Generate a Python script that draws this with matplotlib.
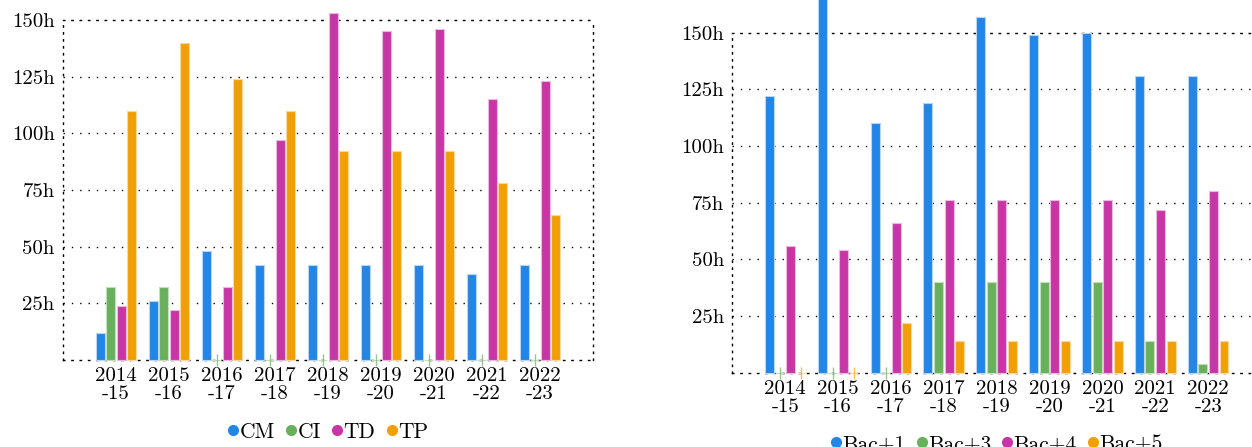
import matplotlib.pyplot as plt
from matplotlib.lines import Line2D
import numpy as np

plt.rcParams['font.family'] = 'cmr10'
plt.rcParams['axes.unicode_minus'] = False
plt.rcParams['axes.formatter.use_mathtext'] = True

years = ['2014\n-15', '2015\n-16', '2016\n-17', '2017\n-18', '2018\n-19',
         '2019\n-20', '2020\n-21', '2021\n-22', '2022\n-23']
yticks = [25, 50, 75, 100, 125, 150]

# hours by type of course
cm = [12, 26, 48, 42, 42, 42, 42, 38, 42]
ci = [32, 32, 0, 0, 0, 0, 0, 0, 0]
td = [24, 22, 32, 97, 153, 145, 146, 115, 123]
tp = [110, 140, 124, 110, 92, 92, 92, 78, 64]

# hours by level
bac1 = [122, 168, 110, 119, 157, 149, 150, 131, 131]
bac3 = [0, 0, 0, 40, 40, 40, 40, 14, 4]
bac4 = [56, 54, 66, 76, 76, 76, 76, 72, 80]
bac5 = [0, 0, 22, 14, 14, 14, 14, 14, 14]

colors = ['#2385e6', '#68b05c', '#c836a6', '#f0a006']
edges = ['#b7d6f6', '#c2dfbd', '#eab9de', '#f9d99b']


def bar_panel(ax, series, labels, leg_y):
    x = np.arange(len(years))
    for i, vals in enumerate(series):
        vals = np.asarray(vals)
        xs = x + (i - 1.5) * 0.2
        ax.bar(xs, vals, width=0.17, color=colors[i], edgecolor=edges[i],
               linewidth=0.8, clip_on=False, zorder=3)
        zero = vals == 0
        if zero.any():
            ax.plot(xs[zero], vals[zero], linestyle='none', marker='|',
                    markersize=8, markeredgewidth=1.0, color=colors[i],
                    alpha=0.7, clip_on=False, zorder=3)
    ax.set_xlim(-1.0, 9.0)
    ax.set_ylim(0, 150)
    ax.set_xticks(x)
    ax.set_xticklabels(years, fontsize=15, linespacing=1.05)
    ax.set_yticks(yticks)
    ax.set_yticklabels([f'{v}h' for v in yticks], fontsize=15)
    ax.tick_params(length=0, pad=6)
    ax.tick_params(axis='x', pad=5)
    for y in yticks[:-1]:
        ax.axhline(y, color='black', linestyle=(0, (1, 5)), linewidth=1.0,
                   zorder=1)
    for side in ['top', 'bottom']:
        ax.spines[side].set_linestyle((0, (1, 5)))
        ax.spines[side].set_linewidth(1.0)
    for side in ['left', 'right']:
        ax.spines[side].set_linestyle((0, (1, 4)))
        ax.spines[side].set_linewidth(1.0)
    handles = [Line2D([], [], linestyle='none', marker='o', markersize=7,
                      color=c) for c in colors]
    ax.legend(handles, labels, loc='center', bbox_to_anchor=(0.5, leg_y),
              ncol=4, frameon=False, fontsize=15.5, handlelength=0.5,
              handletextpad=0.05, columnspacing=0.5, borderaxespad=0)


fig = plt.figure(figsize=(12.52, 4.47), dpi=100)
ax1 = fig.add_axes([0.0503, 0.1946, 0.4233, 0.7606])
ax2 = fig.add_axes([0.5849, 0.1662, 0.4223, 0.7606])

bar_panel(ax1, [cm, ci, td, tp], ['CM', 'CI', 'TD', 'TP'], -0.212)
bar_panel(ax2, [bac1, bac3, bac4, bac5],
          ['Bac+1', 'Bac+3', 'Bac+4', 'Bac+5'], -0.21)

fig.savefig('out.png', dpi=100)
